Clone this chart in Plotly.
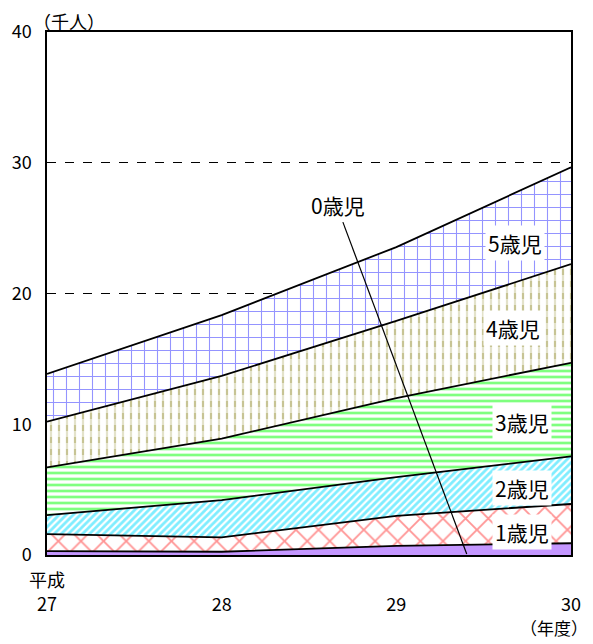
import plotly.graph_objects as go

# Fiscal years (Heisei) and tick labels
years = [27, 28, 29, 30]
year_labels = ["平成<br>27", "<br>28", "<br>29", "<br>30"]

# Children by age, thousands of people
age0 = [0.3, 0.25, 0.7, 0.9]
age1 = [1.3, 1.1, 2.3, 3.0]
age2 = [1.45, 2.85, 2.95, 3.65]
age3 = [3.65, 4.7, 6.05, 7.15]
age4 = [3.5, 4.8, 5.9, 7.55]
age5 = [3.65, 4.65, 5.65, 7.4]

age_names = ["0歳児", "1歳児", "2歳児", "3歳児", "4歳児", "5歳児"]
series = [age0, age1, age2, age3, age4, age5]

FONT = "Noto Sans CJK JP, Noto Sans, sans-serif"

# running totals for the stacked bands
totals = []
run = [0.0] * len(years)
for s in series:
    run = [a + b for a, b in zip(run, s)]
    totals.append(run)

patterns = [
    None,
    dict(shape="x", fgcolor="#ff2a2a", bgcolor="white", size=16, solidity=0.22),
    dict(shape="/", fgcolor="#00dcff", bgcolor="white", size=5, solidity=0.55),
    dict(shape="-", fgcolor="#00ff00", bgcolor="white", size=6, solidity=0.45),
    dict(shape="|", fgcolor="#8f8a2a", bgcolor="white", size=8, solidity=0.28),
    dict(shape="+", fgcolor="#2a2aff", bgcolor="white", size=13, solidity=0.16),
]

fig = go.Figure()

for i, (name, tot) in enumerate(zip(age_names, totals)):
    kw = dict(x=years, y=tot, name=name, mode="lines",
              line=dict(width=0), hoverinfo="skip", showlegend=False)
    if i == 0:
        fig.add_trace(go.Scatter(fill="tozeroy", fillcolor="#c497ff", **kw))
    else:
        fig.add_trace(go.Scatter(fill="tonexty", fillcolor="white",
                                 fillpattern=patterns[i], **kw))
    if name == "4歳児":
        # break the vertical strokes of the 4-year band into short dashes
        fig.add_trace(go.Scatter(x=years, y=totals[i - 1], mode="lines",
                                 line=dict(width=0), hoverinfo="skip",
                                 showlegend=False))
        fig.add_trace(go.Scatter(x=years, y=tot, mode="lines", line=dict(width=0),
                                 fill="tonexty",
                                 fillcolor="rgba(255,255,255,0)",
                                 fillpattern=dict(shape="-", fgcolor="white",
                                                  fillmode="overlay",
                                                  size=12, solidity=0.5),
                                 hoverinfo="skip", showlegend=False))

# black boundary lines on top of the bands
for tot in totals:
    fig.add_trace(go.Scatter(x=years, y=tot, mode="lines",
                             line=dict(color="black", width=1.8),
                             hoverinfo="skip", showlegend=False))

# band labels in white boxes
label_pos = {
    "1歳児": (29.72, 1.76),
    "2歳児": (29.72, 5.1),
    "3歳児": (29.72, 10.2),
    "4歳児": (29.67, 17.4),
    "5歳児": (29.68, 23.85),
}
for name, (lx, ly) in label_pos.items():
    fig.add_annotation(x=lx, y=ly, text=name, showarrow=False,
                       bgcolor="white", borderpad=2,
                       font=dict(family=FONT, size=21, color="black"))

# 0-year label with its leader line
fig.add_annotation(x=28.666, y=26.8, text="0歳児", showarrow=False,
                   font=dict(family=FONT, size=21, color="black"))
fig.add_shape(type="line", x0=28.694, y0=25.46, x1=29.403, y1=0.08,
              line=dict(color="black", width=1.2))

# unit labels
fig.add_annotation(xref="paper", yref="paper", x=0, y=1, xshift=-16,
                   text="（千人）", showarrow=False, xanchor="left",
                   yanchor="bottom", yshift=-4,
                   font=dict(family=FONT, size=18, color="black"))
fig.add_annotation(xref="paper", yref="paper", x=1, y=0, xshift=19,
                   yshift=-87, text="（年度）", showarrow=False,
                   xanchor="right", yanchor="bottom",
                   font=dict(family=FONT, size=17, color="black"))

fig.update_layout(
    width=593, height=644,
    margin=dict(l=44, r=16, t=32, b=89),
    paper_bgcolor="white", plot_bgcolor="white",
    font=dict(family=FONT, size=18, color="black"),
    showlegend=False,
)
fig.update_xaxes(
    range=[27, 30], tickvals=years, ticktext=year_labels,
    showgrid=False, zeroline=False,
    showline=True, linecolor="black", linewidth=1.5, mirror=True,
    ticks="", ticklabelstandoff=9,
    tickfont=dict(family=FONT, size=18),
)
fig.update_yaxes(
    range=[0, 40], tickvals=[0, 10, 20, 30, 40],
    showgrid=True, gridcolor="black", gridwidth=1, griddash="dash",
    zeroline=False,
    showline=True, linecolor="black", linewidth=1.5, mirror=True,
    ticks="", ticklabelstandoff=10,
    tickfont=dict(family=FONT, size=18),
)

fig.write_html("out.html")
